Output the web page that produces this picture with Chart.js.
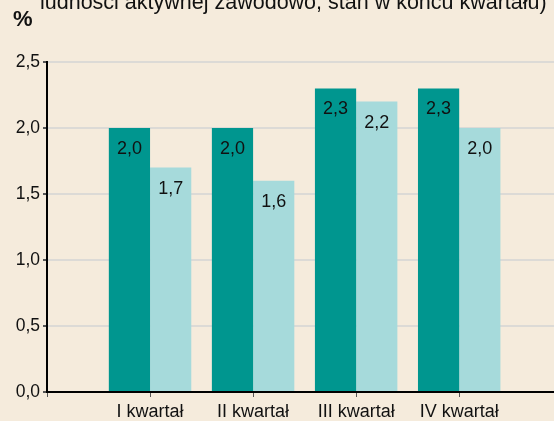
<!DOCTYPE html>
<html>
<head>
<meta charset="utf-8">
<script src="https://cdn.jsdelivr.net/npm/chart.js@4/dist/chart.umd.min.js"></script>
<style>
  html,body{margin:0;padding:0;background:#f5ebdc;overflow:hidden}
  #wrap{position:relative;width:554px;height:421px}
  #title{position:absolute;left:40px;top:-10px;font:21.5px 'Liberation Sans',Arial,sans-serif;color:#111;white-space:nowrap;line-height:24px}
  #unit{position:absolute;left:13px;top:6px;font:bold 22px 'Liberation Sans',Arial,sans-serif;color:#111}
  canvas{position:absolute;left:0;top:0}
</style>
</head>
<body>
<div id="wrap">
  <canvas id="c" width="554" height="421"></canvas>
  <div id="title">ludności aktywnej zawodowo, stan w końcu kwartału)</div>
  <div id="unit">%</div>
</div>
<script>
/* ---------- dane ---------- */
const categories = ['I kwartał','II kwartał','III kwartał','IV kwartał'];
const seriesA    = [2.0, 2.0, 2.3, 2.3];   // ciemne słupki
const seriesB    = [1.7, 1.6, 2.2, 2.0];   // jasne słupki
const yTicks     = [0, 0.5, 1.0, 1.5, 2.0, 2.5];

const FONT = "'Liberation Sans', Arial, sans-serif";
const fmt  = v => v.toFixed(1).replace('.', ',');

/* pozycje kategorii na osi liniowej: 1..n (0 = pusty początek osi) */
const toPts = arr => arr.map((v,i)=>({x:i+1, y:v}));

/* ---------- etykiety w słupkach ---------- */
const barLabels = {
  id:'barLabels',
  afterDatasetsDraw(chart){
    const ctx = chart.ctx;
    ctx.save();
    ctx.font = `18px ${FONT}`;
    ctx.fillStyle = '#111';
    ctx.textAlign = 'center';
    ctx.textBaseline = 'middle';
    chart.data.datasets.forEach((ds,di)=>{
      chart.getDatasetMeta(di).data.forEach((bar,i)=>{
        ctx.fillText(fmt(ds.data[i].y), bar.x, bar.y + 21);
      });
    });
    ctx.restore();
  }
};

new Chart(document.getElementById('c'),{
  type:'bar',
  data:{
    datasets:[
      {data:toPts(seriesA), backgroundColor:'#00968f'},
      {data:toPts(seriesB), backgroundColor:'#a6dadb'}
    ]
  },
  options:{
    responsive:false,
    animation:false,
    layout:{padding:{top:62,left:0,right:0,bottom:0}},
    plugins:{legend:{display:false}, tooltip:{enabled:false}},
    datasets:{bar:{categoryPercentage:0.8, barPercentage:1.0}},
    scales:{
      x:{
        type:'linear',
        offset:false,
        min:0,
        max:4.92,
        afterFit:s=>{s.height = 29;},
        grid:{drawOnChartArea:false, offset:false, tickLength:5, tickColor:'#555', lineWidth:1},
        border:{color:'#000', width:2},
        ticks:{
          stepSize:1, includeBounds:false, autoSkip:false, maxRotation:0,
          padding:4, color:'#111', font:{family:FONT, size:18},
          callback:v=>categories[v-1] ?? ''
        }
      },
      y:{
        min:0, max:2.5,
        afterFit:s=>{s.width = 47;},
        afterBuildTicks:s=>{s.ticks = yTicks.map(v=>({value:v}));},
        grid:{color:c=>c.tick && c.tick.value===0 ? 'rgba(0,0,0,0)' : '#dcdad6', lineWidth:2, tickLength:4, tickColor:'#555'},
        border:{color:'#000', width:2},
        ticks:{padding:3, color:'#111', font:{family:FONT, size:17.5}, callback:v=>fmt(v)}
      }
    }
  },
  plugins:[barLabels]
});
</script>
</body>
</html>
